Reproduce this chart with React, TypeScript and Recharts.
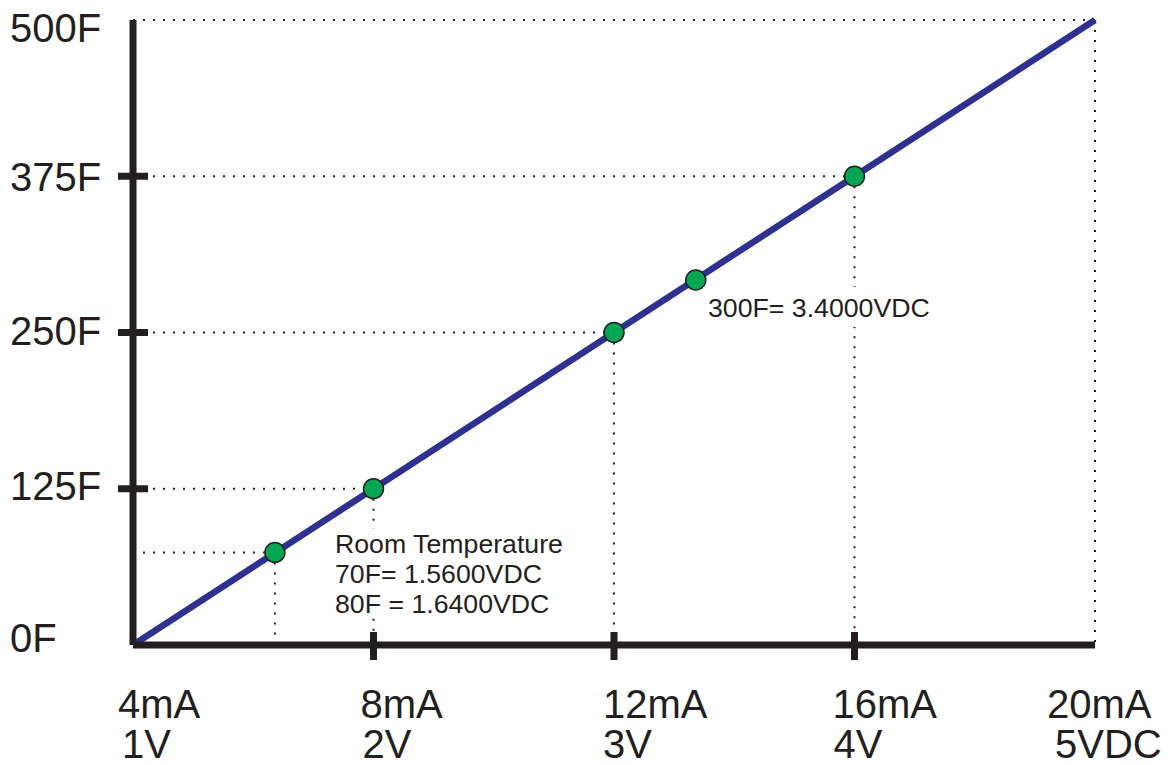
import { ComposedChart, Line, Scatter, XAxis, YAxis, ReferenceLine } from 'recharts'

const xTicks = [1, 2, 3, 4, 5]
const currentLabels = ['4mA', '8mA', '12mA', '16mA', '20mA']
const voltLabels = ['1V', '2V', '3V', '4V', '5VDC']

const yTicks = [0, 125, 250, 375, 500]
const tempLabels = ['0F', '125F', '250F', '375F', '500F']

const lineVolts = [1, 5]
const lineTemps = [0, 500]

const pointVolts = [1.59, 2, 3, 3.34, 4]
const pointTemps = [74, 125, 250, 292, 375]

const guideVolts = [1.59, 2, 3, 4, 5]
const guideTemps = [74, 125, 250, 375, 500]

const lineData = lineVolts.map((v, i) => ({ v, t: lineTemps[i] }))
const pointData = pointVolts.map((v, i) => ({ v, t: pointTemps[i] }))

const INK = '#231f20'
const FONT = 'Liberation Sans, Arial, Helvetica, sans-serif'

// label nudges
const topLineDx = [-15, -13, -11, -22, -48]
const bottomLineDx = [-11, -11, -11, -21, -40]
const yLabelDy = [7, 11, 12, 15, 22]

function XTick(props: any) {
  const { x, y, payload } = props
  const i = xTicks.indexOf(payload.value)
  const inner = i > 0 && i < xTicks.length - 1
  return (
    <g>
      {inner && <line x1={x} x2={x} y1={y - 13} y2={y + 15} stroke={INK} strokeWidth={7} />}
      <text x={x + topLineDx[i]} y={y + 73} fontSize={40} fontFamily={FONT} fill={INK}>
        {currentLabels[i]}
      </text>
      <text x={x + bottomLineDx[i]} y={y + 113} fontSize={40} fontFamily={FONT} fill={INK}>
        {voltLabels[i]}
      </text>
    </g>
  )
}

function YTick(props: any) {
  const { x, y, payload } = props
  const i = yTicks.indexOf(payload.value)
  const inner = i > 0 && i < yTicks.length - 1
  return (
    <g>
      {inner && <line x1={x - 15} x2={x + 15} y1={y} y2={y} stroke={INK} strokeWidth={7} />}
      <text x={x - 123} y={y + yLabelDy[i]} fontSize={40} fontFamily={FONT} fill={INK}>
        {tempLabels[i]}
      </text>
    </g>
  )
}

const Dot = (props: any) => (
  <circle cx={props.cx} cy={props.cy} r={10} fill="#00a651" stroke={INK} strokeWidth={1.5} />
)

export default function App() {
  return (
    <div style={{ position: 'fixed', left: 0, top: 0, width: 1168, height: 765, background: '#fff' }}>
      <ComposedChart
        width={1168}
        height={765}
        margin={{ top: 20, right: 73, bottom: 119, left: 132 }}
      >
        <XAxis
          type="number"
          dataKey="v"
          domain={[1, 5]}
          ticks={xTicks}
          interval={0}
          height={1}
          tickSize={0}
          tickMargin={0}
          tickLine={false}
          axisLine={{ stroke: INK, strokeWidth: 7 }}
          tick={<XTick />}
        />
        <YAxis
          type="number"
          dataKey="t"
          domain={[0, 500]}
          ticks={yTicks}
          interval={0}
          width={1}
          tickSize={0}
          tickMargin={0}
          tickLine={false}
          axisLine={{ stroke: INK, strokeWidth: 7 }}
          tick={<YTick />}
        />
        {guideVolts.map((v, i) => (
          <ReferenceLine
            key={'h' + i}
            segment={[{ x: 1, y: guideTemps[i] }, { x: v, y: guideTemps[i] }]}
            stroke={INK}
            strokeWidth={2}
            strokeDasharray="2 8"
          />
        ))}
        {guideVolts.map((v, i) => (
          <ReferenceLine
            key={'v' + i}
            segment={[{ x: v, y: guideTemps[i] }, { x: v, y: 0 }]}
            stroke={INK}
            strokeWidth={2}
            strokeDasharray="2 8"
          />
        ))}
        <Line
          data={lineData}
          dataKey="t"
          stroke="#2e3192"
          strokeWidth={6.5}
          dot={false}
          activeDot={false}
          isAnimationActive={false}
        />
        <Scatter data={pointData} dataKey="t" shape={<Dot />} isAnimationActive={false} />
      </ComposedChart>
      <svg
        width={1168}
        height={765}
        style={{ position: 'absolute', left: 0, top: 0, pointerEvents: 'none' }}
      >
        <rect x={330} y={529} width={245} height={86} fill="#fff" />
        <rect x={703} y={287} width={240} height={40} fill="#fff" />
        <g fontFamily={FONT} fontSize={26.7} fill={INK}>
          <text x={335} y={553}>Room Temperature</text>
          <text x={335} y={583}>70F= 1.5600VDC</text>
          <text x={335} y={613}>80F = 1.6400VDC</text>
          <text x={708} y={317}>300F= 3.4000VDC</text>
        </g>
      </svg>
    </div>
  )
}
